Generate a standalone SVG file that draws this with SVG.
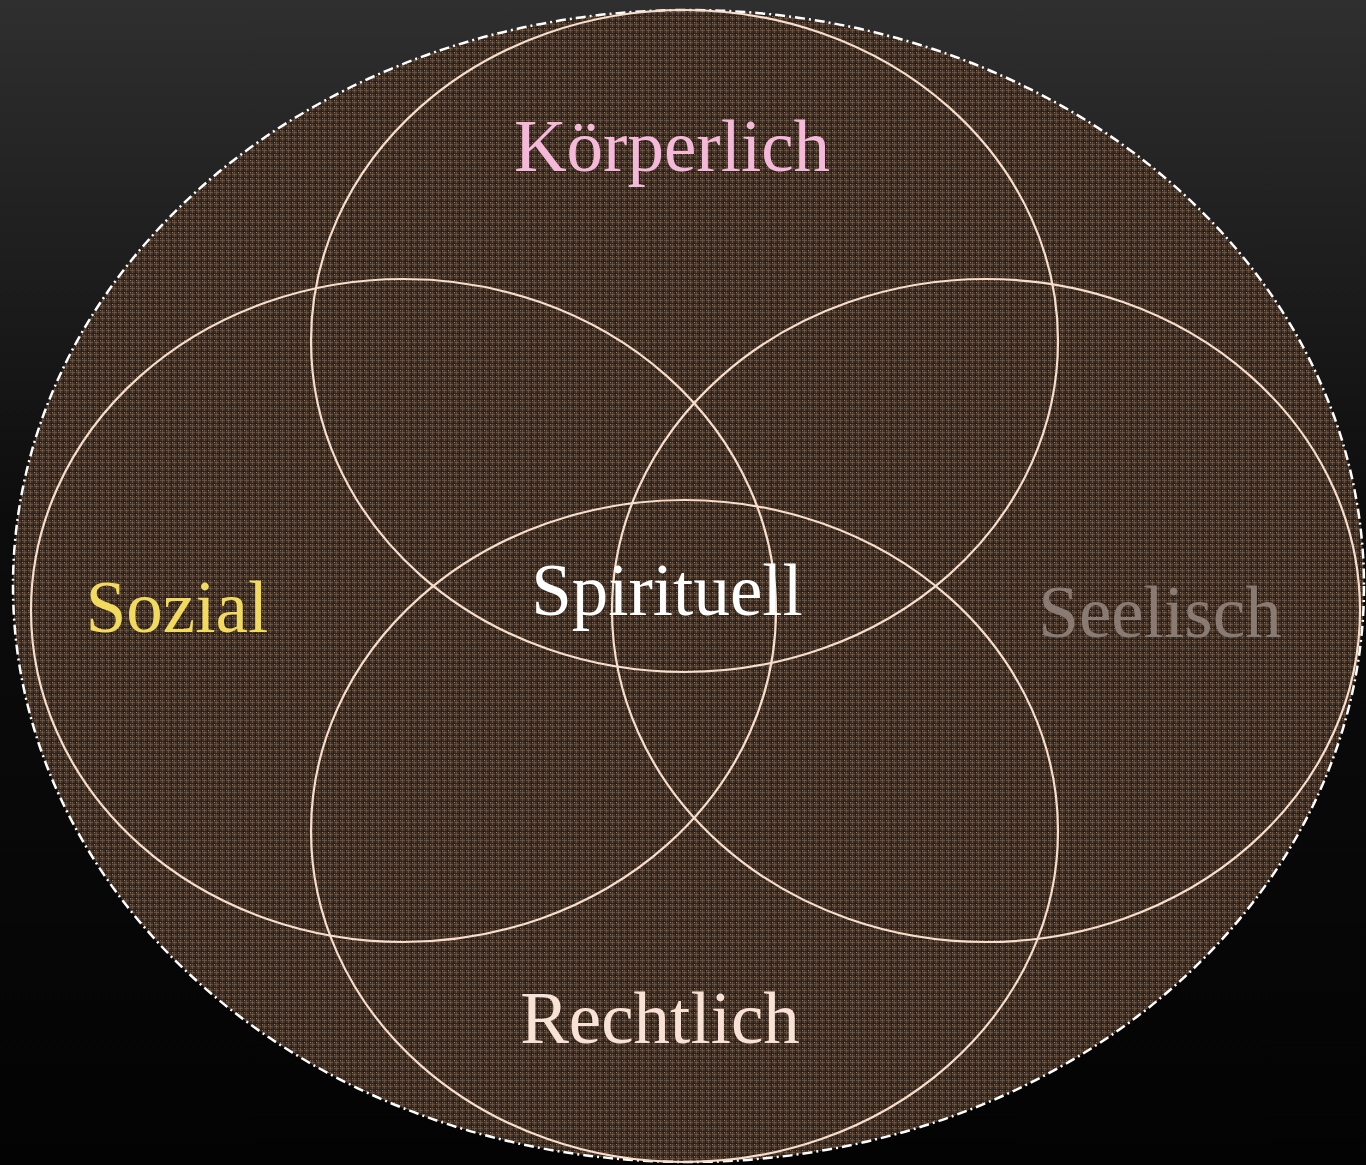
<svg xmlns="http://www.w3.org/2000/svg" width="1366" height="1165" viewBox="0 0 1366 1165">
  <defs>
    <linearGradient id="bg" x1="0" y1="0" x2="0" y2="1">
      <stop offset="0" stop-color="#2f2f2f"/>
      <stop offset="0.45" stop-color="#0c0c0c"/>
      <stop offset="1" stop-color="#030303"/>
    </linearGradient>
    <radialGradient id="glow" cx="0.5" cy="1" r="0.5">
      <stop offset="0" stop-color="#555555"/>
      <stop offset="1" stop-color="#555555" stop-opacity="0"/>
    </radialGradient>
    <pattern id="plaid" width="6" height="6" patternUnits="userSpaceOnUse">
      <rect width="6" height="6" fill="#3a312b"/>
      <rect x="0" y="0" width="1" height="6" fill="#7e5c44" opacity="0.65"/>
      <rect x="0" y="0" width="6" height="1" fill="#7e5c44" opacity="0.65"/>
      <rect x="3" y="0" width="1" height="6" fill="#201b17" opacity="0.7"/>
      <rect x="0" y="3" width="6" height="1" fill="#201b17" opacity="0.7"/>
      <rect x="4" y="4" width="1" height="1" fill="#a27452"/>
    </pattern>
    <style>
      .ring { fill: none; stroke: #f6ddcc; stroke-width: 2.2; }
      .lbl { font-family: "Liberation Serif", "Times New Roman", serif; font-size: 73px; text-anchor: middle; }
    </style>
  </defs>
  <rect width="1366" height="1165" fill="url(#bg)"/>
  <ellipse cx="688" cy="1165" rx="560" ry="80" fill="url(#glow)"/>
  <g id="frame">
    <ellipse cx="688.5" cy="586" rx="675.5" ry="576" fill="url(#plaid)" stroke="#ffffff" stroke-width="2.5" stroke-dasharray="10 4 2 4"/>
  </g>
  <g id="connectors"></g>
  <g id="node-koerperlich">
    <ellipse class="ring" cx="684.5" cy="341" rx="373.5" ry="331"/>
    <text class="lbl" x="672" y="171" fill="#f4b9d9">Körperlich</text>
  </g>
  <g id="node-sozial">
    <ellipse class="ring" cx="403.5" cy="610.5" rx="372.5" ry="331.5"/>
    <text class="lbl" x="177" y="632" fill="#f2da5e">Sozial</text>
  </g>
  <g id="node-seelisch">
    <ellipse class="ring" cx="986" cy="610.5" rx="374" ry="331.5"/>
    <text class="lbl" x="1160" y="637" fill="#8a7b72">Seelisch</text>
  </g>
  <g id="node-rechtlich">
    <ellipse class="ring" cx="684.5" cy="831" rx="373.5" ry="331"/>
    <text class="lbl" x="660" y="1043" fill="#f8e2d6">Rechtlich</text>
  </g>
  <g id="node-spirituell">
    <text class="lbl" x="667" y="615" fill="#ffffff">Spirituell</text>
  </g>
</svg>
